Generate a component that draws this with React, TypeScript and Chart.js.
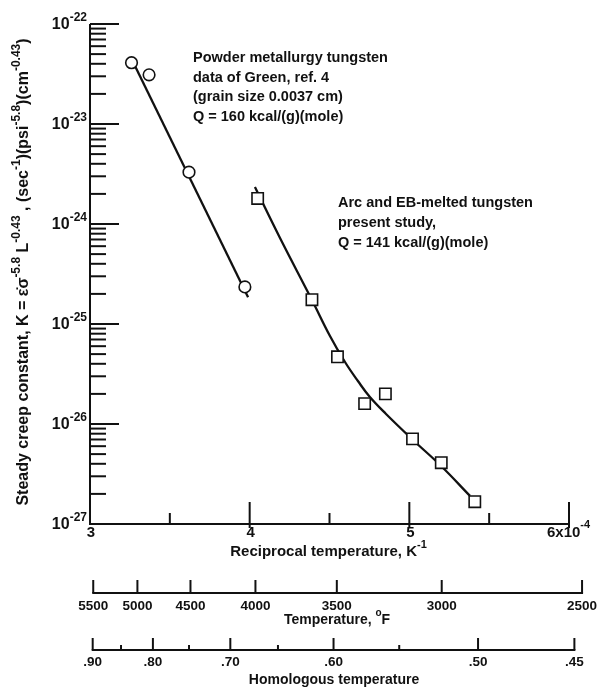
import React, { useEffect, useRef } from "react";
import { Chart, registerables } from "chart.js";

Chart.register(...registerables);

// Powder metallurgy tungsten (Green, ref. 4) - measured points
const powderRecipT = [3.26, 3.37, 3.62, 3.97];
const powderK = [4.1e-23, 3.1e-23, 3.3e-24, 2.35e-25];
// straight-line fit, Q = 160 kcal/(g)(mole)
const powderFitRecipT = [3.275, 3.99];
const powderFitK = [4.0e-23, 1.85e-25];

// Arc and EB-melted tungsten, present study - measured points
const arcRecipT = [4.05, 4.39, 4.55, 4.72, 4.85, 5.02, 5.2, 5.41];
const arcK = [1.8e-24, 1.75e-25, 4.7e-26, 1.6e-26, 2.0e-26, 7.1e-27, 4.1e-27, 1.67e-27];
// faired curve, Q = 141 kcal/(g)(mole)
const arcFitRecipT = [4.033, 4.19, 4.39, 4.503, 4.597, 4.678, 4.753, 4.854, 5.023, 5.199, 5.38];
const arcFitK = [2.34e-24, 7.24e-25, 1.74e-25, 7.59e-26, 4.17e-26, 2.69e-26, 1.86e-26, 1.26e-26, 6.92e-27, 3.8e-27, 1.91e-27];

// axes
const yDecadeExponents = [-27, -26, -25, -24, -23, -22];
const xMajorTicks = [3, 4, 5, 6];
const xMajorLabels = ["3", "4", "5", "6x10"];
const xMinorTicks = [3.5, 4.5, 5.5];
const fahrenheitTicks = [5500, 5000, 4500, 4000, 3500, 3000, 2500];
const homologousMajorTicks = [0.9, 0.8, 0.7, 0.6, 0.5, 0.45];
const homologousMajorLabels = [".90", ".80", ".70", ".60", ".50", ".45"];
const homologousMinorTicks = [0.85, 0.75, 0.65, 0.55];
const tungstenMeltingPointK = 3683;

const powderNote = [
  "Powder metallurgy tungsten",
  "data of Green, ref. 4",
  "(grain size 0.0037 cm)",
  "Q = 160 kcal/(g)(mole)",
];
const arcNote = ["Arc and EB-melted tungsten", "present study,", "Q = 141 kcal/(g)(mole)"];

const recipFromF = (f: number) => 1e4 / (((f - 32) * 5) / 9 + 273.15);
const recipFromH = (h: number) => 1e4 / (h * tungstenMeltingPointK);

const FONT = '"Liberation Sans", Arial, sans-serif';
const INK = "#111";

type Seg = { t: string; sup?: boolean };

function drawRich(
  ctx: CanvasRenderingContext2D,
  segs: Seg[],
  x: number,
  y: number,
  align: "left" | "center" | "right",
  size: number,
  rise = 0.45
) {
  const base = `bold ${size}px ${FONT}`;
  const sup = `bold ${Math.round(size * 0.72)}px ${FONT}`;
  let w = 0;
  for (const s of segs) {
    ctx.font = s.sup ? sup : base;
    w += ctx.measureText(s.t).width;
  }
  let cx = align === "left" ? x : align === "center" ? x - w / 2 : x - w;
  ctx.textAlign = "left";
  ctx.textBaseline = "middle";
  for (const s of segs) {
    ctx.font = s.sup ? sup : base;
    ctx.fillText(s.t, cx, s.sup ? y - size * rise : y);
    cx += ctx.measureText(s.t).width;
  }
}

function seg(ctx: CanvasRenderingContext2D, x1: number, y1: number, x2: number, y2: number) {
  ctx.beginPath();
  ctx.moveTo(x1, y1);
  ctx.lineTo(x2, y2);
  ctx.stroke();
}

const paperAxes = {
  id: "paperAxes",
  afterDraw(chart: any) {
    const ctx: CanvasRenderingContext2D = chart.ctx;
    const xs = chart.scales.x;
    const ys = chart.scales.y;
    const { left, right, top, bottom } = chart.chartArea;
    ctx.save();
    ctx.strokeStyle = INK;
    ctx.fillStyle = INK;
    ctx.lineWidth = 2;
    ctx.lineCap = "butt";

    // main axes
    ctx.beginPath();
    ctx.moveTo(left, top);
    ctx.lineTo(left, bottom);
    ctx.lineTo(right, bottom);
    ctx.stroke();

    // y ticks and labels
    yDecadeExponents.forEach((e) => {
      const py = ys.getPixelForValue(Math.pow(10, e));
      if (e > yDecadeExponents[0]) seg(ctx, left, py, left + 29, py);
      if (e < yDecadeExponents[yDecadeExponents.length - 1]) {
        for (let k = 2; k <= 9; k++) {
          const p2 = ys.getPixelForValue(k * Math.pow(10, e));
          seg(ctx, left, p2, left + 16, p2);
        }
      }
      drawRich(ctx, [{ t: "10" }, { t: String(e), sup: true }], left - 3, py + 1, "right", 16);
    });

    // x ticks and labels
    xMajorTicks.forEach((v, i) => {
      const px = xs.getPixelForValue(v);
      if (i > 0) seg(ctx, px, bottom - 22, px, bottom + 4);
      if (i === xMajorTicks.length - 1) {
        drawRich(ctx, [{ t: xMajorLabels[i] }, { t: "-4", sup: true }], px - 22, bottom + 9, "left", 15, 0.55);
      } else {
        drawRich(ctx, [{ t: xMajorLabels[i] }], px + 1, bottom + 9, "center", 15);
      }
    });
    xMinorTicks.forEach((v) => {
      const px = xs.getPixelForValue(v);
      seg(ctx, px, bottom - 11, px, bottom);
    });
    drawRich(
      ctx,
      [{ t: "Reciprocal temperature, K" }, { t: "-1", sup: true }],
      (left + right) / 2 - 1,
      bottom + 28,
      "center",
      15
    );

    // y axis title
    ctx.save();
    ctx.translate(24, (top + bottom) / 2 - 2);
    ctx.rotate(-Math.PI / 2);
    drawRich(
      ctx,
      [
        { t: "Steady creep constant, K = \u03b5\u0307\u03c3" },
        { t: "-5.8", sup: true },
        { t: " L" },
        { t: "-0.43", sup: true },
        { t: " , (sec" },
        { t: "-1", sup: true },
        { t: ")(psi" },
        { t: "-5.8", sup: true },
        { t: ")(cm" },
        { t: "-0.43", sup: true },
        { t: ")" },
      ],
      0,
      0,
      "center",
      16
    );
    ctx.restore();

    // temperature (deg F) scale
    const fy = bottom + 69;
    const fx1 = xs.getPixelForValue(recipFromF(fahrenheitTicks[0]));
    const fx2 = xs.getPixelForValue(recipFromF(fahrenheitTicks[fahrenheitTicks.length - 1]));
    seg(ctx, fx1 - 1, fy, fx2 + 1, fy);
    fahrenheitTicks.forEach((f) => {
      const px = xs.getPixelForValue(recipFromF(f));
      seg(ctx, px, fy - 13, px, fy);
      drawRich(ctx, [{ t: String(f) }], px, fy + 13, "center", 13.5);
    });
    drawRich(ctx, [{ t: "Temperature, " }, { t: "o", sup: true }, { t: "F" }], 337, fy + 27, "center", 14);

    // homologous temperature scale
    const hy = bottom + 126;
    const hx1 = xs.getPixelForValue(recipFromH(homologousMajorTicks[0]));
    const hx2 = xs.getPixelForValue(recipFromH(homologousMajorTicks[homologousMajorTicks.length - 1]));
    seg(ctx, hx1 - 1, hy, hx2 + 1, hy);
    homologousMajorTicks.forEach((h, i) => {
      const px = xs.getPixelForValue(recipFromH(h));
      seg(ctx, px, hy - 12, px, hy);
      drawRich(ctx, [{ t: homologousMajorLabels[i] }], px, hy + 12, "center", 13.5);
    });
    homologousMinorTicks.forEach((h) => {
      const px = xs.getPixelForValue(recipFromH(h));
      seg(ctx, px, hy - 5, px, hy);
    });
    drawRich(ctx, [{ t: "Homologous temperature" }], 334, hy + 30, "center", 14);

    // notes
    powderNote.forEach((s, i) => drawRich(ctx, [{ t: s }], 193, 58 + i * 19.7, "left", 14.5));
    arcNote.forEach((s, i) => drawRich(ctx, [{ t: s }], 338, 203 + i * 20, "left", 14.5));

    ctx.restore();
  },
};

export default function App() {
  const ref = useRef<HTMLCanvasElement | null>(null);
  useEffect(() => {
    if (!ref.current) return;
    const pts = (xs: number[], ys: number[]) => xs.map((x, i) => ({ x, y: ys[i] }));
    const chart = new Chart(ref.current, {
      type: "scatter",
      data: {
        datasets: [
          {
            label: "Powder metallurgy tungsten",
            data: pts(powderRecipT, powderK),
            pointStyle: "circle",
            pointRadius: 5.8,
            pointBorderWidth: 1.6,
            pointBorderColor: INK,
            pointBackgroundColor: "#fff",
            showLine: false,
            order: 0,
          },
          {
            label: "Arc and EB-melted tungsten",
            data: pts(arcRecipT, arcK),
            pointStyle: "rect",
            pointRadius: 8,
            pointBorderWidth: 1.6,
            pointBorderColor: INK,
            pointBackgroundColor: "#fff",
            showLine: false,
            order: 0,
          },
          {
            label: "Powder fit",
            data: pts(powderFitRecipT, powderFitK),
            showLine: true,
            borderColor: INK,
            borderWidth: 2.3,
            pointRadius: 0,
            order: 1,
          },
          {
            label: "Arc fit",
            data: pts(arcFitRecipT, arcFitK),
            showLine: true,
            borderColor: INK,
            borderWidth: 2.3,
            pointRadius: 0,
            tension: 0.4,
            order: 1,
          },
        ],
      } as any,
      options: {
        animation: false,
        responsive: false,
        devicePixelRatio: 1,
        events: [],
        layout: { padding: { left: 90, right: 28, top: 24, bottom: 164 } },
        scales: {
          x: { type: "linear", min: 3, max: 6, display: false },
          y: { type: "logarithmic", min: 1e-27, max: 1e-22, display: false },
        },
        plugins: { legend: { display: false }, tooltip: { enabled: false } },
      } as any,
      plugins: [paperAxes],
    });
    return () => chart.destroy();
  }, []);
  return (
    <div style={{ position: "fixed", left: 0, top: 0, width: 597, height: 688, background: "#fff" }}>
      <canvas ref={ref} width={597} height={688} style={{ display: "block", width: 597, height: 688 }} />
    </div>
  );
}
